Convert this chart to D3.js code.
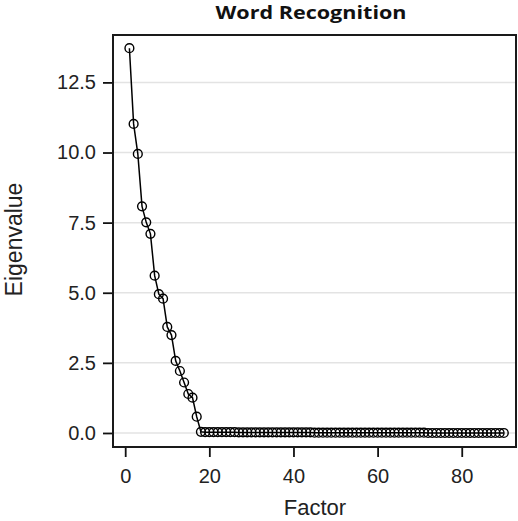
<!DOCTYPE html>
<html>
<head>
<meta charset="utf-8">
<script src="https://cdn.jsdelivr.net/npm/d3@7"></script>
<style>
  html, body { margin: 0; padding: 0; background: #fff; }
  svg { display: block; }
</style>
</head>
<body>
<svg id="chart" width="518" height="521"></svg>
<script>
// Scree plot: eigenvalue of each extracted factor
const title = "Word Recognition";
const xLabel = "Factor";
const yLabel = "Eigenvalue";

// Eigenvalues for factors 1..18 (the steep part of the curve)
const leadingEigenvalues = [
  13.72, 11.02, 9.95, 8.08, 7.51, 7.10, 5.61, 4.95, 4.79, 3.78,
  3.49, 2.57, 2.21, 1.80, 1.39, 1.26, 0.58, 0.04
];
// Eigenvalues for factors 19..90 (the flat tail)
const tailEigenvalues = [
  0.03, 0.03, 0.03, 0.03, 0.03, 0.03, 0.03, 0.03, 0.02, 0.02,
  0.02, 0.02, 0.02, 0.02, 0.02, 0.02, 0.02, 0.02, 0.02, 0.02,
  0.02, 0.02, 0.02, 0.02, 0.02, 0.02, 0.01, 0.01, 0.01, 0.01,
  0.01, 0.01, 0.01, 0.01, 0.01, 0.01, 0.01, 0.01, 0.01, 0.01,
  0.01, 0.01, 0.01, 0.01, 0.01, 0.01, 0.01, 0.01, 0.01, 0.01,
  0.01, 0.01, 0.01, 0.00, 0.00, 0.00, 0.00, 0.00, 0.00, 0.00,
  0.00, 0.00, 0.00, 0.00, 0.00, 0.00, 0.00, 0.00, 0.00, 0.00,
  0.00, 0.00
];
const xTicks = [0, 20, 40, 60, 80];
const yTicks = [0, 2.5, 5, 7.5, 10, 12.5];

const eigenvalues = leadingEigenvalues.concat(tailEigenvalues);
const data = eigenvalues.map((v, i) => ({ factor: i + 1, value: v }));

const frame = { left: 113, right: 516, top: 35, bottom: 447 };
const svg = d3.select("#chart");

const x = d3.scaleLinear().domain([-2.9, 92.9]).range([frame.left, frame.right]);
const y = d3.scaleLinear().domain([-0.5, 14.19]).range([frame.bottom, frame.top]);

const tickFont = "'Liberation Sans', Arial, sans-serif";

// Horizontal reference lines
svg.append("g")
  .selectAll("line")
  .data(yTicks)
  .join("line")
  .attr("x1", frame.left)
  .attr("x2", frame.right)
  .attr("y1", d => y(d))
  .attr("y2", d => y(d))
  .attr("stroke", "#e3e3e3")
  .attr("stroke-width", 1.5);

// Left axis
const yAxis = svg.append("g")
  .attr("transform", `translate(${frame.left},0)`)
  .call(d3.axisLeft(y).tickValues(yTicks).tickFormat(d3.format(".1f"))
    .tickSize(10).tickPadding(7));
yAxis.select(".domain").remove();
yAxis.selectAll(".tick line").attr("stroke", "#111").attr("stroke-width", 1.8);
yAxis.selectAll(".tick text")
  .attr("font-family", tickFont).attr("font-size", 20).attr("fill", "#222");

// Bottom axis
const xAxis = svg.append("g")
  .attr("transform", `translate(0,${frame.bottom})`)
  .call(d3.axisBottom(x).tickValues(xTicks).tickFormat(d3.format("d"))
    .tickSize(10).tickPadding(12));
xAxis.select(".domain").remove();
xAxis.selectAll(".tick line").attr("stroke", "#111").attr("stroke-width", 1.8);
xAxis.selectAll(".tick text")
  .attr("font-family", tickFont).attr("font-size", 20).attr("fill", "#222");

// Plot frame
svg.append("rect")
  .attr("x", frame.left)
  .attr("y", frame.top)
  .attr("width", frame.right - frame.left)
  .attr("height", frame.bottom - frame.top)
  .attr("fill", "none")
  .attr("stroke", "#1a1a1a")
  .attr("stroke-width", 2);

// Connecting line
const line = d3.line().x(d => x(d.factor)).y(d => y(d.value));
svg.append("path")
  .datum(data)
  .attr("d", line)
  .attr("fill", "none")
  .attr("stroke", "#000")
  .attr("stroke-width", 1.5);

// Point markers
svg.append("g")
  .selectAll("circle")
  .data(data)
  .join("circle")
  .attr("cx", d => x(d.factor))
  .attr("cy", d => y(d.value))
  .attr("r", 4.4)
  .attr("fill", "none")
  .attr("stroke", "#000")
  .attr("stroke-width", 1.4);

// Title
svg.append("text")
  .attr("x", 311)
  .attr("y", 19)
  .attr("text-anchor", "middle")
  .attr("font-family", "'Open Sans', Lato, sans-serif")
  .attr("font-weight", "bold")
  .attr("font-size", 17)
  .attr("textLength", 191)
  .attr("lengthAdjust", "spacingAndGlyphs")
  .attr("fill", "#111")
  .text(title);

// Axis titles
svg.append("text")
  .attr("x", 315)
  .attr("y", 515)
  .attr("text-anchor", "middle")
  .attr("font-family", tickFont)
  .attr("font-size", 22)
  .attr("fill", "#222")
  .text(xLabel);

svg.append("text")
  .attr("transform", "translate(22,239.5) rotate(-90)")
  .attr("text-anchor", "middle")
  .attr("font-family", tickFont)
  .attr("font-size", 23)
  .attr("fill", "#222")
  .text(yLabel);
</script>
</body>
</html>
